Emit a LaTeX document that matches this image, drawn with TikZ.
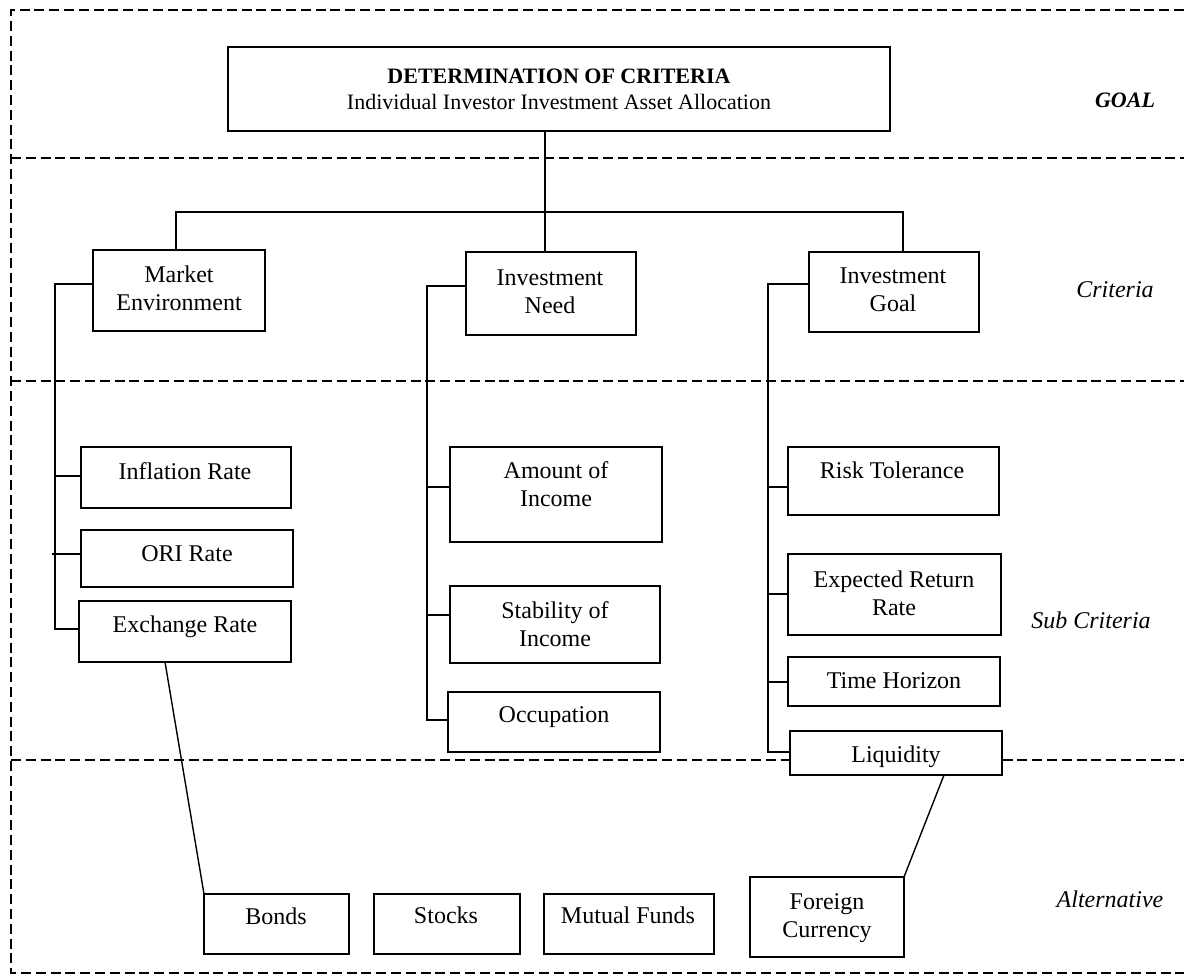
\documentclass[tikz,border=0pt]{standalone}
\usepackage{fontspec}
\setmainfont{Liberation Serif}
\newcommand\st{\rule{0pt}{9pt}}
\begin{document}
\begin{tikzpicture}[x=0.5pt,y=-0.5pt,
  bx/.style 2 args={draw, line width=0.75pt, fill=white, inner sep=0pt, outer sep=0pt, anchor=north west, minimum width=#1, minimum height=#2},
  tx/.style={anchor=north, inner sep=0pt, align=center, font=\fontsize{12}{14}\selectfont},
  lvl/.style={anchor=base, inner sep=0pt, font=\fontsize{12}{14}\selectfont\itshape},
  sep/.style={line width=0.9pt, dash pattern=on 5pt off 2.4pt},
  con/.style={line width=0.7pt}]
\useasboundingbox (0,0) rectangle (1184,975);

% level separators
\draw[sep] (1184,10) -- (11,10) -- (11,973) -- (1184,973);
\draw[sep] (11,158) -- (1184,158);
\draw[sep] (11,381) -- (1184,381);
\draw[sep] (11,760) -- (1184,760);

% level labels
\node[lvl, font=\fontsize{11}{13}\selectfont\bfseries\itshape] (lgoal) at (1125,107) {GOAL};
\node[lvl] (lcrit) at (1115,297) {Criteria};
\node[lvl] (lsub) at (1091,628) {Sub Criteria};
\node[lvl] (lalt) at (1110,907) {Alternative};

% boxes
\node[bx={331pt}{42pt}] (goal) at (228,47) {};
\node[bx={86pt}{40.5pt}] (me) at (93,250) {};
\node[bx={85pt}{41.5pt}] (in) at (466,252) {};
\node[bx={85pt}{40pt}] (ig) at (809,252) {};
\node[bx={105pt}{30.5pt}] (ir) at (81,447) {};
\node[bx={106pt}{28.5pt}] (ori) at (81,530) {};
\node[bx={106pt}{30.5pt}] (er) at (79,601) {};
\node[bx={106pt}{47.5pt}] (ai) at (450,447) {};
\node[bx={105pt}{38.5pt}] (si) at (450,586) {};
\node[bx={106pt}{30pt}] (oc) at (448,692) {};
\node[bx={105.5pt}{34pt}] (rt) at (788,447) {};
\node[bx={106.5pt}{40.5pt}] (ex) at (788,554) {};
\node[bx={106pt}{24.5pt}] (th) at (788,657) {};
\node[bx={106pt}{22pt}] (lq) at (790,731) {};
\node[bx={72.5pt}{30pt}] (bo) at (204,894) {};
\node[bx={73pt}{30pt}] (stk) at (374,894) {};
\node[bx={85pt}{30pt}] (mf) at (544,894) {};
\node[bx={77pt}{40pt}] (fc) at (750,877) {};

% texts
\node[tx, font=\fontsize{11}{13}\selectfont] (goal-t) at (559,65) {\st\textbf{DETERMINATION OF CRITERIA}\\Individual Investor Investment Asset Allocation};
\node[tx] (me-t) at (179,264) {\st Market\\Environment};
\node[tx] (in-t) at (550,267) {\st Investment\\Need};
\node[tx] (ig-t) at (893,265) {\st Investment\\Goal};
\node[tx] (ir-t) at (185,461) {\st Inflation Rate};
\node[tx] (ori-t) at (187,543) {\st ORI Rate};
\node[tx] (er-t) at (185,614) {\st Exchange Rate};
\node[tx] (ai-t) at (556,460) {\st Amount of\\Income};
\node[tx] (si-t) at (555,600) {\st Stability of\\Income};
\node[tx] (oc-t) at (554,704) {\st Occupation};
\node[tx] (rt-t) at (892,460) {\st Risk Tolerance};
\node[tx] (ex-t) at (894,569) {\st Expected Return\\Rate};
\node[tx] (th-t) at (894,670) {\st Time Horizon};
\node[tx] (lq-t) at (896,744) {\st Liquidity};
\node[tx] (bo-t) at (276,906) {\st Bonds};
\node[tx] (stk-t) at (446,905) {\st Stocks};
\node[tx] (mf-t) at (628,905) {\st Mutual Funds};
\node[tx] (fc-t) at (827,891) {\st Foreign\\Currency};

% tree connectors
\coordinate (bL) at (176,212);
\coordinate (bR) at (903,212);
\draw[con] ([xshift=-7pt]goal.south) -- ([xshift=-3pt]in.north);
\draw[con] ([xshift=41.5pt]me.north west) -- (bL) -- (bR) -- ([xshift=47pt]ig.north west);

\coordinate (lT) at (55,284);
\coordinate (l1) at (55,476);
\coordinate (l2) at (52,554);
\coordinate (lB) at (55,629);
\draw[con] (lT -| me.west) -- (lT) -- (lB) -- (lB -| er.west);
\draw[con] (l1) -- (l1 -| ir.west);
\draw[con] (l2) -- (l2 -| ori.west);

\coordinate (mT) at (427,286);
\coordinate (m1) at (427,487);
\coordinate (m2) at (427,615);
\coordinate (mB) at (427,720);
\draw[con] (mT -| in.west) -- (mT) -- (mB) -- (mB -| oc.west);
\draw[con] (m1) -- (m1 -| ai.west);
\draw[con] (m2) -- (m2 -| si.west);

\coordinate (rT) at (768,284);
\coordinate (r1) at (768,487);
\coordinate (r2) at (768,594);
\coordinate (r3) at (768,682);
\coordinate (rB) at (768,752);
\draw[con] (rT -| ig.west) -- (rT) -- (rB) -- (rB -| lq.west);
\draw[con] (r1) -- (r1 -| rt.west);
\draw[con] (r2) -- (r2 -| ex.west);
\draw[con] (r3) -- (r3 -| th.west);

% links to alternatives
\draw[con] ([xshift=43pt]er.south west) -- (bo.north west);
\draw[con] ([xshift=77pt]lq.south west) -- (fc.north east);
\end{tikzpicture}
\end{document}
